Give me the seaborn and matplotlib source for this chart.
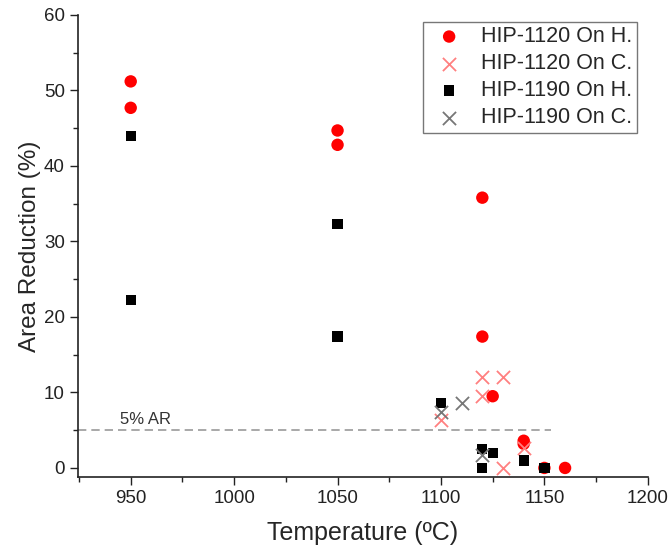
import pandas as pd
import matplotlib
matplotlib.use("Agg")
import matplotlib.pyplot as plt
import seaborn as sns
from matplotlib.ticker import MultipleLocator

# HIP-1120 On H. (red circles)
t_1120_h = [950, 950, 1050, 1050, 1120, 1120, 1125, 1140, 1140, 1150, 1160]
ar_1120_h = [51.2, 47.7, 44.7, 42.8, 35.8, 17.4, 9.5, 3.6, 3.2, 0.0, 0.0]

# HIP-1120 On C. (light red crosses)
t_1120_c = [1120, 1130, 1120, 1100, 1130, 1140]
ar_1120_c = [12.1, 12.0, 9.5, 6.4, 0.0, 2.6]

# HIP-1190 On H. (black squares)
t_1190_h = [950, 950, 1050, 1050, 1100, 1120, 1125, 1120, 1140, 1150]
ar_1190_h = [44.0, 22.2, 32.3, 17.4, 8.6, 2.5, 2.0, 0.0, 1.0, 0.0]

# HIP-1190 On C. (grey crosses)
t_1190_c = [1110, 1100, 1120]
ar_1190_c = [8.6, 7.4, 1.7]

sns.set_style("ticks")
plt.rcParams["font.family"] = ["Liberation Sans", "DejaVu Sans"]

fig = plt.figure(figsize=(6.72, 5.54), dpi=100)
ax = fig.add_axes([0.116, 0.139, 0.848, 0.834])

ax.axhline(5, xmin=0, xmax=(1153 - 924.5) / (1200 - 924.5), color="#999999",
           linestyle=(0, (5, 3)), linewidth=1.2, zorder=1)
ax.text(945, 5.8, "5% AR", fontsize=12, color="#333333")

series = [
    ("HIP-1120 On H.", t_1120_h, ar_1120_h, "o", "#ff0000", 80, 0),
    ("HIP-1120 On C.", t_1120_c, ar_1120_c, "x", "#ff8080", 90, 1.3),
    ("HIP-1190 On H.", t_1190_h, ar_1190_h, "s", "#000000", 55, 0),
    ("HIP-1190 On C.", t_1190_c, ar_1190_c, "x", "#777777", 90, 1.3),
]
for name, t, ar, mk, col, s, lw in series:
    df = pd.DataFrame({"Temperature": t, "AR": ar})
    kw = dict(edgecolor="none") if mk != "x" else dict(linewidths=lw)
    sns.scatterplot(data=df, x="Temperature", y="AR", marker=mk, color=col,
                    s=s, label=name, ax=ax, zorder=3, **kw)

ax.set_xlim(924.5, 1200)
ax.set_ylim(-1.2, 60)
ax.xaxis.set_major_locator(MultipleLocator(50))
ax.xaxis.set_minor_locator(MultipleLocator(25))
ax.yaxis.set_major_locator(MultipleLocator(10))
ax.yaxis.set_minor_locator(MultipleLocator(5))
ax.tick_params(which="major", length=6, width=1, labelsize=13.5, colors="#222222")
ax.tick_params(which="minor", length=3.5, width=1, colors="#222222")
for sp in ["left", "bottom"]:
    ax.spines[sp].set_linewidth(1.2)
    ax.spines[sp].set_color("#222222")
sns.despine(ax=ax)

ax.set_xlabel("Temperature (ºC)", fontsize=18, labelpad=10)
ax.set_ylabel("Area Reduction (%)", fontsize=17.5, labelpad=2)

leg = ax.legend(loc="upper right", bbox_to_anchor=(0.981, 0.985),
                borderaxespad=0, fontsize=15.5,
                frameon=True, fancybox=False, edgecolor="#555555",
                handletextpad=0.5, borderpad=0.2, labelspacing=0.28,
                handlelength=2.0)
leg.get_frame().set_linewidth(1.0)

fig.savefig("out.png", dpi=100)
